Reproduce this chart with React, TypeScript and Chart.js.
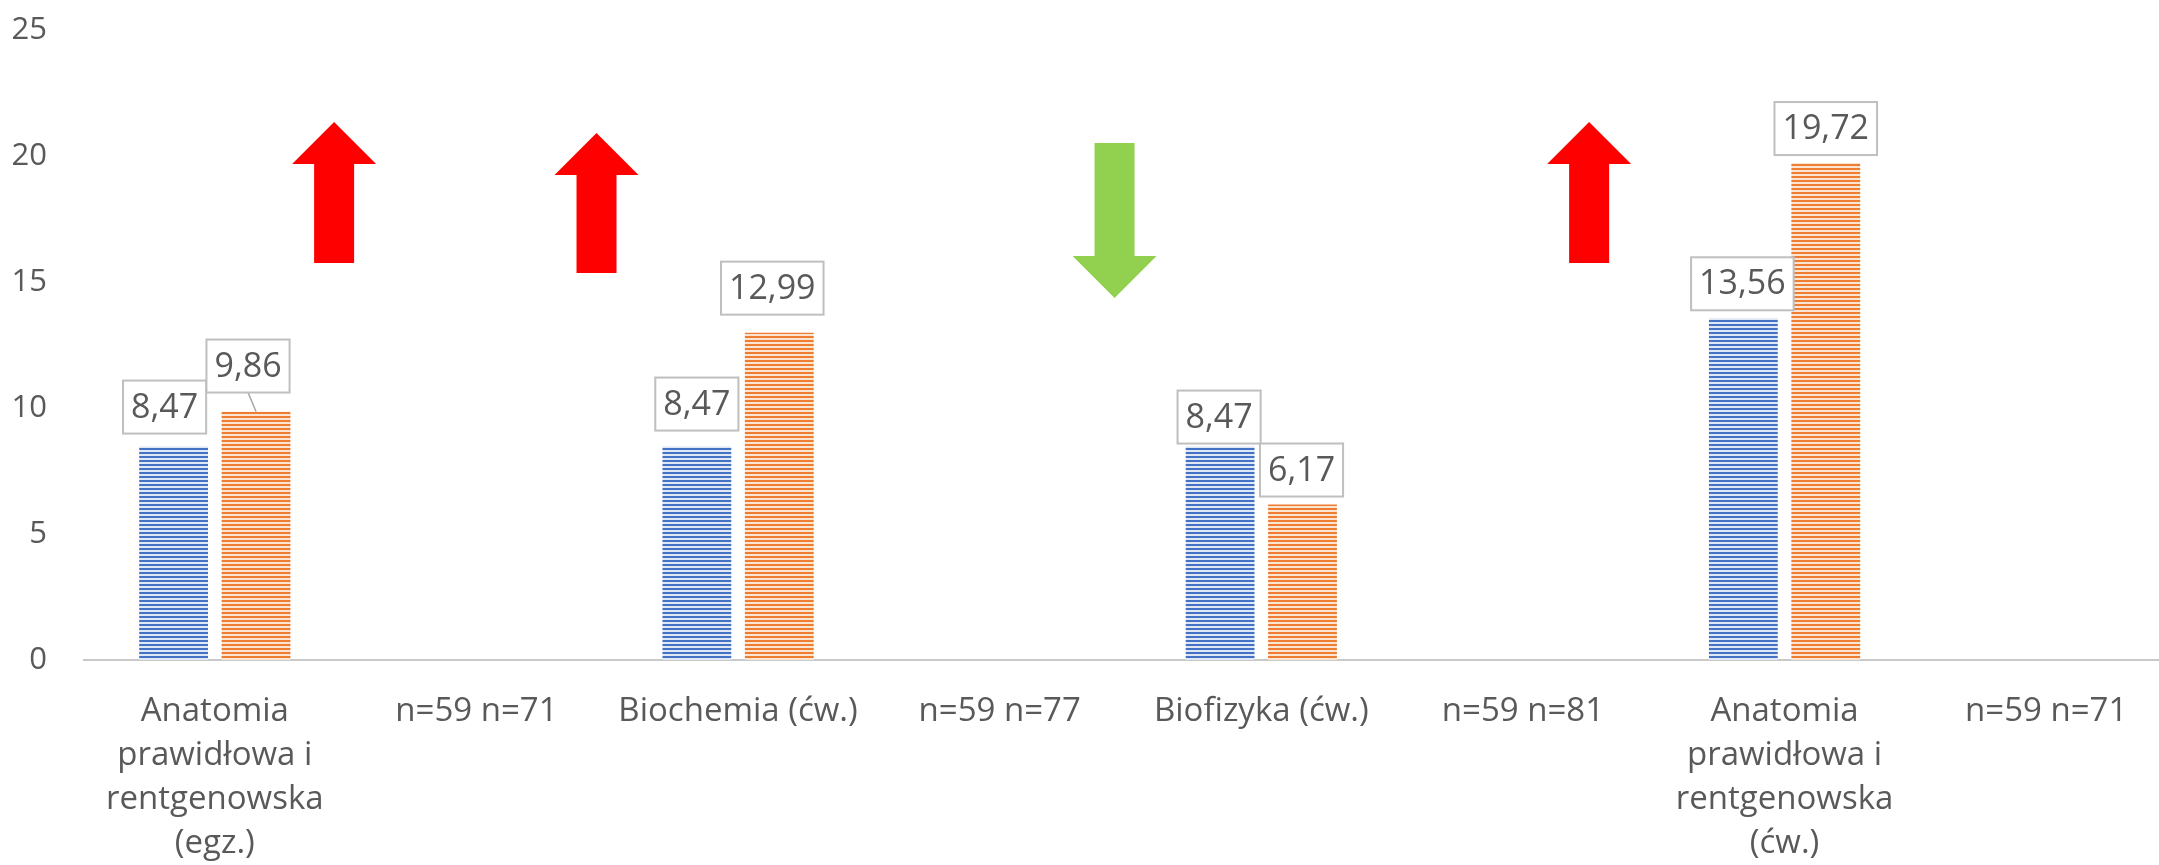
import React, { useEffect, useRef } from "react";
import { Chart, registerables } from "chart.js";

Chart.register(...registerables);

const categories: (string | string[])[] = [
  ["Anatomia", "prawidłowa i", "rentgenowska", "(egz.)"],
  "n=59 n=71",
  "Biochemia (ćw.)",
  "n=59 n=77",
  "Biofizyka (ćw.)",
  "n=59 n=81",
  ["Anatomia", "prawidłowa i", "rentgenowska", "(ćw.)"],
  "n=59 n=71",
];

const seriesBlue: (number | null)[] = [8.47, null, 8.47, null, 8.47, null, 13.56, null];
const seriesOrange: (number | null)[] = [9.86, null, 12.99, null, 6.17, null, 19.72, null];

const yMax = 25;
const yStep = 5;

// label placement tweaks (dx from bar centre, gap above bar top, leader line)
const labelShiftBlue = [
  { dx: -9, gap: 13, leader: false }, null,
  { dx: 0, gap: 16, leader: false }, null,
  { dx: -1, gap: 3, leader: false }, null,
  { dx: -1, gap: 8, leader: false }, null,
];
const labelShiftOrange = [
  { dx: -8, gap: 19, leader: true }, null,
  { dx: -7, gap: 18, leader: false }, null,
  { dx: -1, gap: 8, leader: false }, null,
  { dx: 0, gap: 8, leader: false }, null,
];

// arrows: x in category units, tip / tail in value units
const arrows = [
  { x: 0.456, tip: 21.35, tail: 15.75, color: "#ff0000" },
  { x: 1.459, tip: 20.91, tail: 15.36, color: "#ff0000" },
  { x: 3.439, tip: 14.37, tail: 20.52, color: "#92d050" },
  { x: 5.253, tip: 21.35, tail: 15.75, color: "#ff0000" },
];

const FONT = "'Open Sans', sans-serif";
const TEXT = "#595959";

function stripes(color: string, light: string): CanvasPattern | string {
  const c = document.createElement("canvas");
  c.width = 8;
  c.height = 4;
  const g = c.getContext("2d");
  if (!g) return color;
  g.fillStyle = light;
  g.fillRect(0, 0, 8, 4);
  g.fillStyle = color;
  g.fillRect(0, 0, 8, 2);
  return g.createPattern(c, "repeat") || color;
}

const fmt = (v: number) => v.toFixed(2).replace(".", ",");

const labelPlugin = {
  id: "boxLabels",
  afterDatasetsDraw(chart: any) {
    const ctx = chart.ctx;
    const shifts = [labelShiftBlue, labelShiftOrange];
    ctx.save();
    ctx.font = `34px ${FONT}`;
    chart.data.datasets.forEach((ds: any, di: number) => {
      const meta = chart.getDatasetMeta(di);
      meta.data.forEach((bar: any, i: number) => {
        const v = ds.data[i];
        if (v === null || v === undefined) return;
        const s = shifts[di][i] || { dx: 0, gap: 8, leader: false };
        const txt = fmt(v);
        const tw = ctx.measureText(txt).width;
        const w = tw + 16;
        const h = 53;
        const cx = bar.x + s.dx;
        const bottom = bar.y - s.gap;
        const top = bottom - h;
        if (s.leader) {
          ctx.strokeStyle = "#a6a6a6";
          ctx.lineWidth = 1.5;
          ctx.beginPath();
          ctx.moveTo(cx, bottom);
          ctx.lineTo(bar.x, bar.y);
          ctx.stroke();
        }
        ctx.fillStyle = "#ffffff";
        ctx.fillRect(cx - w / 2, top, w, h);
        ctx.strokeStyle = "#bfbfbf";
        ctx.lineWidth = 2;
        ctx.strokeRect(cx - w / 2, top, w, h);
        ctx.fillStyle = TEXT;
        ctx.textAlign = "center";
        ctx.textBaseline = "middle";
        ctx.fillText(txt, cx, top + h / 2 + 1);
      });
    });
    ctx.restore();
  },
};

const arrowPlugin = {
  id: "arrows",
  afterDatasetsDraw(chart: any) {
    const ctx = chart.ctx;
    const xs = chart.scales.x;
    const ys = chart.scales.y;
    const headLen = 42;
    const headW = 84;
    const shaftW = 40;
    ctx.save();
    arrows.forEach((a) => {
      const x = xs.getPixelForValue(a.x);
      const yTip = ys.getPixelForValue(a.tip);
      const yTail = ys.getPixelForValue(a.tail);
      const dir = yTail > yTip ? 1 : -1; // 1: pointing up
      const yBase = yTip + dir * headLen;
      ctx.fillStyle = a.color;
      ctx.beginPath();
      ctx.moveTo(x, yTip);
      ctx.lineTo(x + headW / 2, yBase);
      ctx.lineTo(x + shaftW / 2, yBase);
      ctx.lineTo(x + shaftW / 2, yTail);
      ctx.lineTo(x - shaftW / 2, yTail);
      ctx.lineTo(x - shaftW / 2, yBase);
      ctx.lineTo(x - headW / 2, yBase);
      ctx.closePath();
      ctx.fill();
    });
    ctx.restore();
  },
};

export default function App() {
  const ref = useRef<HTMLCanvasElement | null>(null);

  useEffect(() => {
    if (!ref.current) return;
    const chart = new Chart(ref.current, {
      type: "bar",
      data: {
        labels: categories as any,
        datasets: [
          {
            label: "A",
            data: seriesBlue,
            backgroundColor: stripes("#4472c4", "#dfe6f4") as any,
            borderWidth: 0,
            categoryPercentage: 0.63,
            barPercentage: 0.835,
          },
          {
            label: "B",
            data: seriesOrange,
            backgroundColor: stripes("#ed7d31", "#fce4d3") as any,
            borderWidth: 0,
            categoryPercentage: 0.63,
            barPercentage: 0.835,
          },
        ],
      },
      options: {
        responsive: false,
        animation: false,
        layout: { padding: { top: 30, right: 0, bottom: 0, left: 0 } },
        plugins: {
          legend: { display: false },
          tooltip: { enabled: false },
        },
        scales: {
          x: {
            grid: { display: false, drawTicks: false },
            border: { display: true, color: "#c9c9c9", width: 2 },
            ticks: {
              color: TEXT,
              font: { family: FONT, size: 33, lineHeight: 1.33 },
              padding: 30,
              maxRotation: 0,
              autoSkip: false,
            },
            afterFit: (s: any) => {
              s.height = 205;
            },
          },
          y: {
            min: 0,
            max: yMax,
            grid: { display: false, drawTicks: false },
            border: { display: false },
            ticks: {
              stepSize: yStep,
              color: TEXT,
              font: { family: FONT, size: 31 },
              padding: 37,
            },
            afterFit: (s: any) => {
              s.width = 84;
              s.paddingTop = 0;
              s.paddingBottom = 0;
            },
          },
        },
      },
      plugins: [arrowPlugin, labelPlugin],
    });
    return () => chart.destroy();
  }, []);

  return (
    <div
      style={{
        position: "fixed",
        left: 0,
        top: 0,
        width: 2159,
        height: 865,
        overflow: "hidden",
        background: "#fff",
      }}
    >
      <canvas ref={ref} width={2177} height={865} style={{ display: "block" }} />
    </div>
  );
}
